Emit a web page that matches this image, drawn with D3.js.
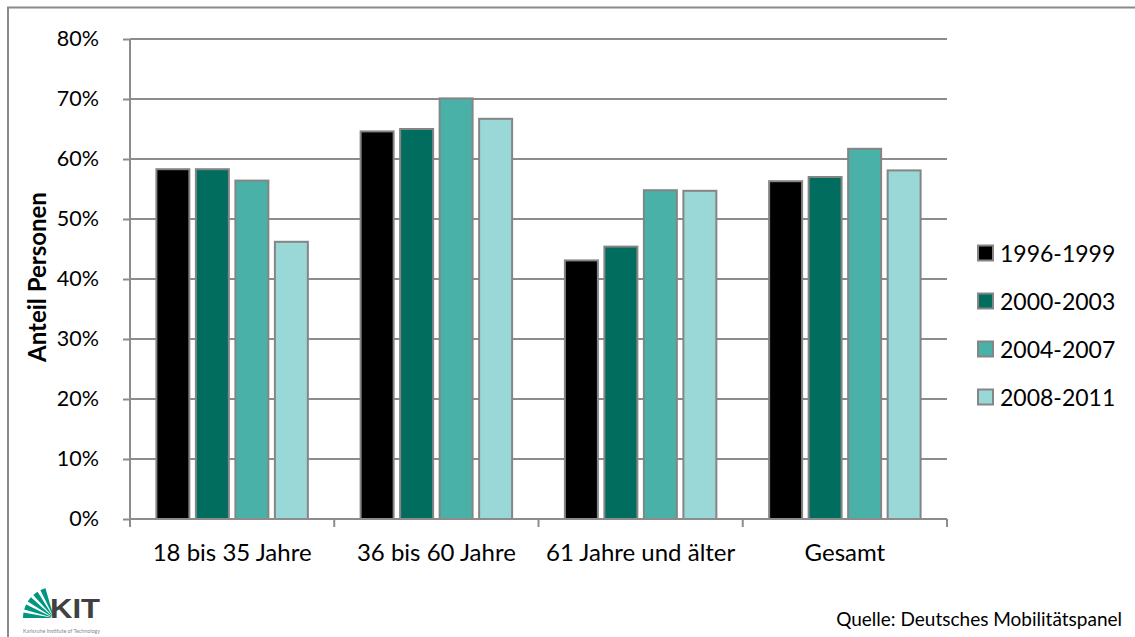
<!DOCTYPE html>
<html>
<head>
<meta charset="utf-8">
<script src="https://cdn.jsdelivr.net/npm/d3@7"></script>
<style>
  html, body { margin: 0; padding: 0; background: #fff; }
  svg { display: block; font-family: Lato, "Open Sans", sans-serif; }
</style>
</head>
<body>
<svg id="chart" width="1135" height="637"></svg>
<script>
// Anteil Personen nach Altersgruppe und Zeitraum
const categories = ["18 bis 35 Jahre", "36 bis 60 Jahre", "61 Jahre und älter", "Gesamt"];
const periods = ["1996-1999", "2000-2003", "2004-2007", "2008-2011"];
const values1996 = [58.3, 64.6, 43.1, 56.3];
const values2000 = [58.3, 65.0, 45.4, 57.0];
const values2004 = [56.4, 70.1, 54.8, 61.7];
const values2008 = [46.2, 66.7, 54.7, 58.1];
const yTicks = [0, 10, 20, 30, 40, 50, 60, 70, 80];
const colors = ["#000000", "#006d5e", "#49b1a8", "#9ad7d7"];

const seriesValues = [values1996, values2000, values2004, values2008];
const rows = categories.map((c, i) => ({
  category: c,
  values: periods.map((p, j) => ({ period: p, value: seriesValues[j][i], idx: j }))
}));

const svg = d3.select("#chart");
const plot = { left: 130, top: 39, right: 947, bottom: 519 };
const gridColor = "#8c8c8c";

// outer frame
svg.append("rect")
  .attr("x", 8).attr("y", 7.5)
  .attr("width", 1140).attr("height", 640)
  .attr("fill", "none").attr("stroke", "#8a8a8a").attr("stroke-width", 2);

const x0 = d3.scaleBand().domain(categories).range([plot.left, plot.right]);
const x1 = d3.scaleBand().domain(periods).range([0, x0.bandwidth()]).paddingInner(0.165).paddingOuter(0.668);
const y = d3.scaleLinear().domain([0, 80]).range([plot.bottom, plot.top]);

// horizontal grid
svg.append("g")
  .selectAll("line")
  .data(yTicks.filter(t => t > 0))
  .join("line")
  .attr("x1", plot.left).attr("x2", plot.right)
  .attr("y1", d => y(d)).attr("y2", d => y(d))
  .attr("stroke", gridColor).attr("stroke-width", 2);

// bars
const groups = svg.append("g")
  .selectAll("g")
  .data(rows)
  .join("g")
  .attr("transform", d => `translate(${x0(d.category)},0)`);

groups.selectAll("rect")
  .data(d => d.values)
  .join("rect")
  .attr("x", d => x1(d.period))
  .attr("y", d => y(d.value))
  .attr("width", x1.bandwidth())
  .attr("height", d => y(0) - y(d.value))
  .attr("fill", d => colors[d.idx])
  .attr("stroke", "#858585")
  .attr("stroke-width", 2);

// y axis
const yAxis = d3.axisLeft(y).tickValues(yTicks).tickFormat(d => d + "%").tickSize(7).tickPadding(24);
const gy = svg.append("g").attr("transform", `translate(${plot.left},0)`).call(yAxis);
gy.select(".domain").attr("stroke", gridColor).attr("stroke-width", 2).attr("d", `M0,${plot.top}V${plot.bottom}`);
gy.selectAll(".tick line").attr("stroke", gridColor).attr("stroke-width", 2);
gy.selectAll(".tick text").attr("font-size", 21.5).attr("fill", "#000").attr("font-family", "Lato, sans-serif");

// x axis
const xAxis = d3.axisBottom(x0).tickSize(0).tickPadding(25);
const gx = svg.append("g").attr("transform", `translate(0,${plot.bottom})`).call(xAxis);
gx.select(".domain").attr("stroke", gridColor).attr("stroke-width", 2).attr("d", `M${plot.left},0H${plot.right}`);
gx.selectAll(".tick text").attr("font-size", 24).attr("fill", "#000").attr("font-family", "Lato, sans-serif");

// category boundary ticks
const bounds = categories.map(c => x0(c)).concat([x0.range()[1]]);
svg.append("g").selectAll("line").data(bounds).join("line")
  .attr("x1", d => d).attr("x2", d => d)
  .attr("y1", plot.bottom).attr("y2", plot.bottom + 8)
  .attr("stroke", gridColor).attr("stroke-width", 2);

// y axis title
svg.append("text")
  .attr("transform", `translate(46,277) rotate(-90)`)
  .attr("text-anchor", "middle")
  .attr("font-size", 24).attr("font-weight", "bold")
  .text("Anteil Personen");

// legend
const legend = svg.append("g").attr("transform", "translate(978,253)");
const li = legend.selectAll("g").data(periods).join("g")
  .attr("transform", (d, i) => `translate(0,${i * 48})`);
li.append("rect")
  .attr("x", 0).attr("y", -7.5).attr("width", 15).attr("height", 15)
  .attr("fill", (d, i) => colors[i]).attr("stroke", "#858585").attr("stroke-width", 2);
li.append("text")
  .attr("x", 22).attr("y", 8.5)
  .attr("font-size", 23)
  .text(d => d);

// source note
svg.append("text")
  .attr("x", 1122).attr("y", 626)
  .attr("text-anchor", "end")
  .attr("font-size", 19)
  .text("Quelle: Deutsches Mobilitätspanel");

// KIT logo: green fan, letters and institute line
const logo = svg.append("g");
const fanCx = 54, fanCy = 618;
const arc = d3.arc();
[[-90, -80], [-74, -64], [-58, -48], [-42, -32], [-26, -16]].forEach(([a0, a1]) => {
  logo.append("path")
    .attr("transform", `translate(${fanCx},${fanCy})`)
    .attr("d", arc({ innerRadius: 3, outerRadius: 31, startAngle: a0 * Math.PI / 180, endAngle: a1 * Math.PI / 180 }))
    .attr("fill", "#009682");
});
logo.append("text")
  .attr("x", 50).attr("y", 618)
  .attr("font-size", 28).attr("font-weight", "bold")
  .attr("font-family", "Liberation Sans, Arial, sans-serif")
  .attr("textLength", 50).attr("lengthAdjust", "spacingAndGlyphs")
  .attr("fill", "#404040")
  .text("KIT");
logo.append("text")
  .attr("x", 23).attr("y", 633)
  .attr("font-size", 5)
  .attr("fill", "#888")
  .attr("textLength", 77).attr("lengthAdjust", "spacingAndGlyphs")
  .text("Karlsruhe Institute of Technology");
</script>
</body>
</html>
